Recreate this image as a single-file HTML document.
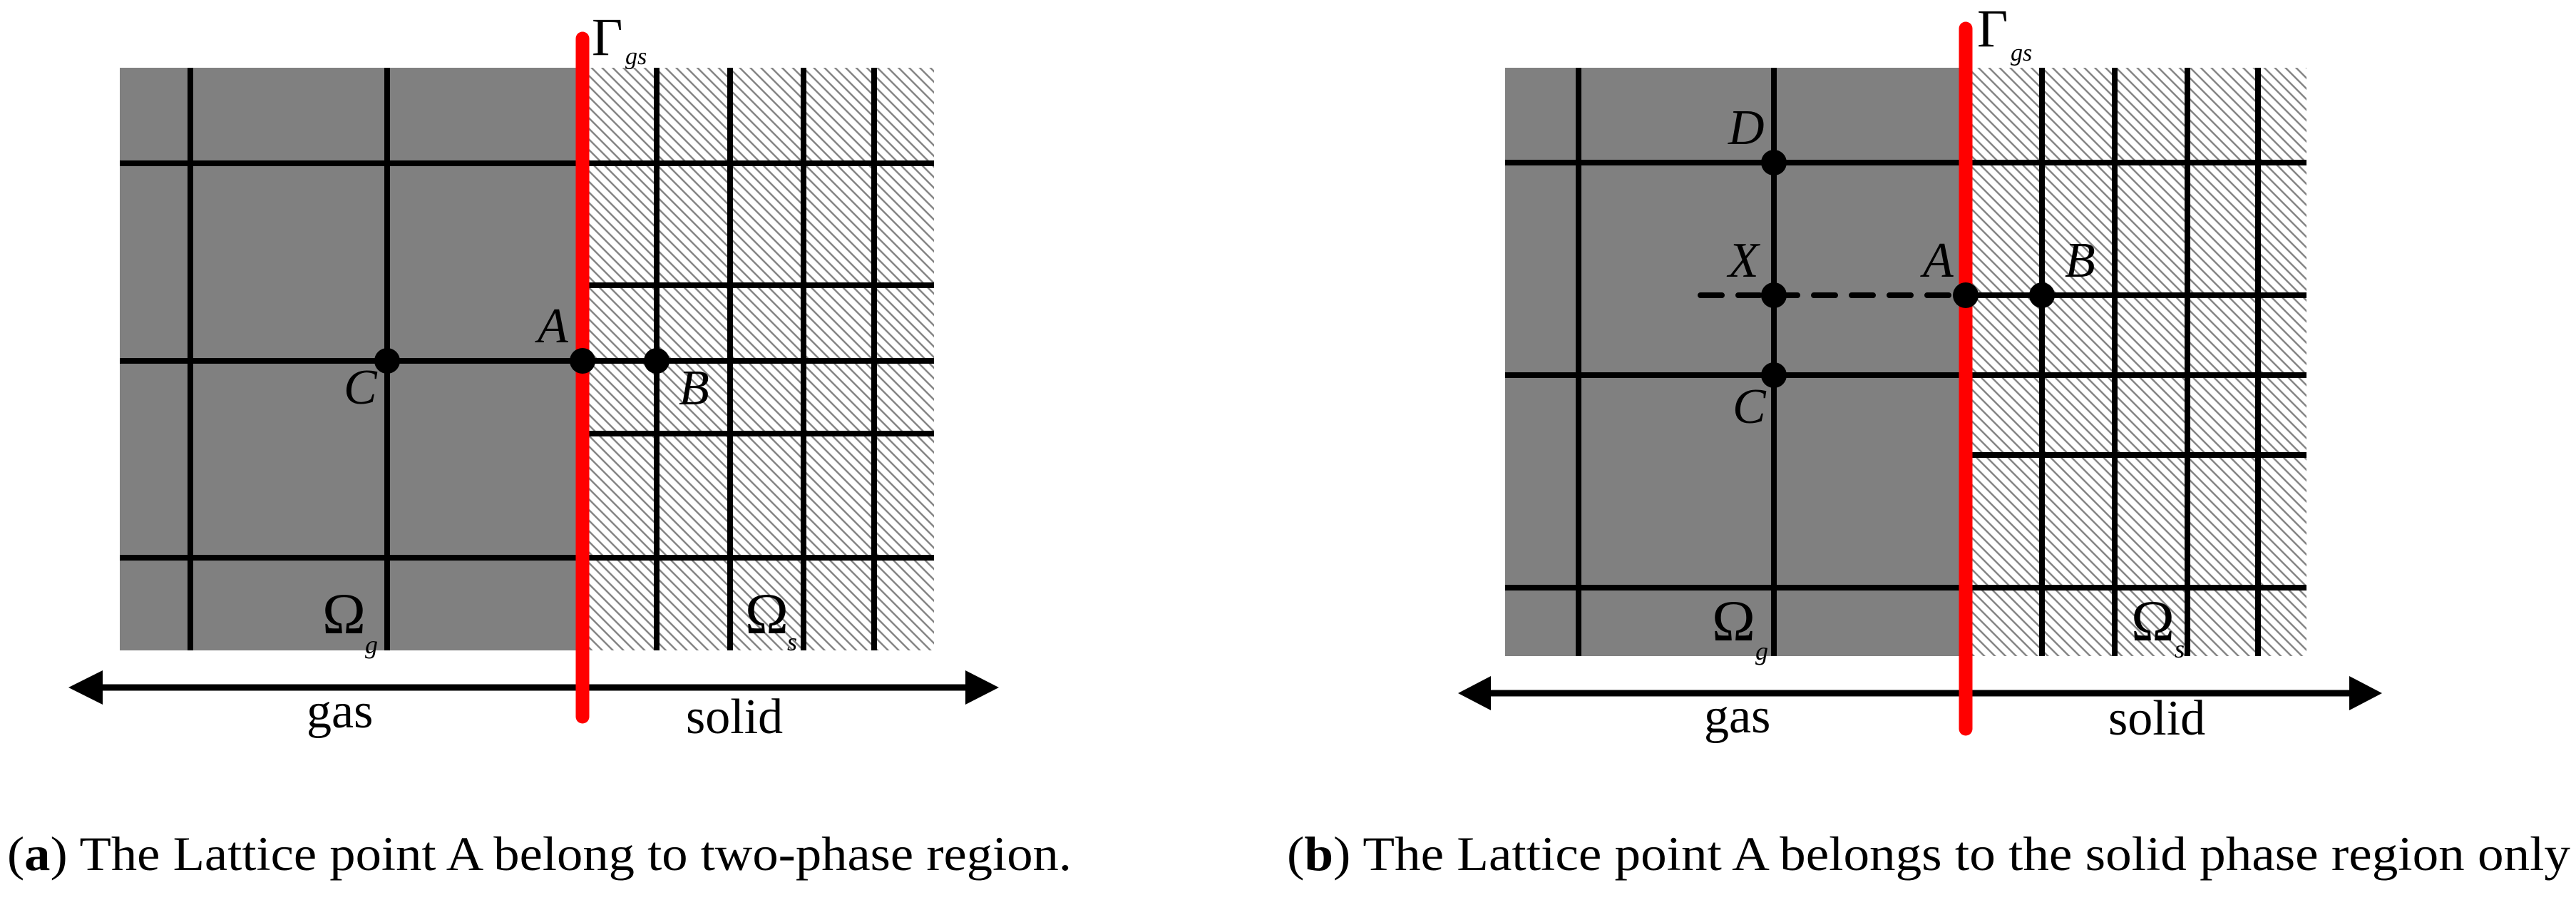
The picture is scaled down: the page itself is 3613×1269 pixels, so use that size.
<!DOCTYPE html>
<html><head><meta charset="utf-8"><style>
html,body{margin:0;padding:0;background:#fff}
svg{display:block}
svg text{font-family:"Liberation Serif","DejaVu Serif",serif}
</style></head><body>
<svg width="3613" height="1269" viewBox="0 0 3613 1269" xmlns="http://www.w3.org/2000/svg">
<defs>
<pattern id="h" width="10.5" height="10.5" patternUnits="userSpaceOnUse" patternTransform="rotate(-45)">
<rect width="10.5" height="10.5" fill="#fff"/>
<line x1="5" y1="0" x2="5" y2="10.5" stroke="#808080" stroke-width="2.4"/>
</pattern>
</defs>

<!-- Panel A -->
<rect x="168" y="95" width="649" height="817" fill="#808080"/>
<rect x="817" y="95" width="493" height="817" fill="url(#h)"/>
<g stroke="#000" stroke-width="8">
<line x1="267" y1="95" x2="267" y2="912"/>
<line x1="543" y1="95" x2="543" y2="912"/>
<line x1="921" y1="95" x2="921" y2="912"/>
<line x1="1024" y1="95" x2="1024" y2="912"/>
<line x1="1127" y1="95" x2="1127" y2="912"/>
<line x1="1226" y1="95" x2="1226" y2="912"/>
<line x1="168" y1="229" x2="1310" y2="229"/>
<line x1="168" y1="506" x2="1310" y2="506"/>
<line x1="168" y1="782" x2="1310" y2="782"/>
<line x1="817" y1="400" x2="1310" y2="400"/>
<line x1="817" y1="608" x2="1310" y2="608"/>
</g>
<line x1="144" y1="964" x2="1354" y2="964" stroke="#000" stroke-width="9"/>
<polygon points="96,964 144,940 144,988" fill="#000"/>
<polygon points="1401,964 1354,940 1354,988" fill="#000"/>
<line x1="817" y1="54" x2="817" y2="1005" stroke="#f00" stroke-width="19" stroke-linecap="round"/>
<circle cx="543" cy="506" r="18"/>
<circle cx="817" cy="506" r="18"/>
<circle cx="921" cy="506" r="18"/>
<text x="830" y="77" font-size="75">Γ</text>
<text x="877" y="90" font-size="34" font-style="italic">gs</text>
<text x="754" y="480" font-size="70" font-style="italic">A</text>
<text x="482" y="566" font-size="70" font-style="italic">C</text>
<text x="952" y="567" font-size="70" font-style="italic">B</text>
<text x="452" y="888" font-size="82">Ω</text>
<text x="512" y="916" font-size="36" font-style="italic">g</text>
<text x="1045" y="888" font-size="82">Ω</text>
<text x="1104" y="912" font-size="36" font-style="italic">s</text>
<text x="430" y="1020" font-size="70">gas</text>
<text x="962" y="1028" font-size="70">solid</text>
<text x="10" y="1220" font-size="68" textLength="1493" lengthAdjust="spacingAndGlyphs">(<tspan font-weight="bold">a</tspan>) The Lattice point A belong to two-phase region.</text>

<!-- Panel B -->
<rect x="2111" y="95" width="646" height="825" fill="#808080"/>
<rect x="2757" y="95" width="478" height="825" fill="url(#h)"/>
<g stroke="#000" stroke-width="8">
<line x1="2214" y1="95" x2="2214" y2="920"/>
<line x1="2488" y1="95" x2="2488" y2="920"/>
<line x1="2864" y1="95" x2="2864" y2="920"/>
<line x1="2966" y1="95" x2="2966" y2="920"/>
<line x1="3068" y1="95" x2="3068" y2="920"/>
<line x1="3167" y1="95" x2="3167" y2="920"/>
<line x1="2111" y1="228" x2="3235" y2="228"/>
<line x1="2111" y1="526" x2="3235" y2="526"/>
<line x1="2111" y1="824" x2="3235" y2="824"/>
<line x1="2757" y1="414" x2="3235" y2="414"/>
<line x1="2757" y1="638" x2="3235" y2="638"/>
<line x1="2385" y1="414" x2="2757" y2="414" stroke-dasharray="30 23" stroke-linecap="round"/>
</g>
<line x1="2091" y1="972" x2="3295" y2="972" stroke="#000" stroke-width="9"/>
<polygon points="2045,972 2091,948 2091,996" fill="#000"/>
<polygon points="3341,972 3295,948 3295,996" fill="#000"/>
<line x1="2757" y1="40" x2="2757" y2="1022" stroke="#f00" stroke-width="19" stroke-linecap="round"/>
<circle cx="2488" cy="228" r="18"/>
<circle cx="2488" cy="414" r="18"/>
<circle cx="2488" cy="526" r="18"/>
<circle cx="2757" cy="414" r="18"/>
<circle cx="2864" cy="414" r="18"/>
<text x="2773" y="65" font-size="75">Γ</text>
<text x="2820" y="85" font-size="34" font-style="italic">gs</text>
<text x="2424" y="202" font-size="70" font-style="italic">D</text>
<text x="2424" y="388" font-size="70" font-style="italic">X</text>
<text x="2697" y="388" font-size="70" font-style="italic">A</text>
<text x="2896" y="388" font-size="70" font-style="italic">B</text>
<text x="2430" y="593" font-size="70" font-style="italic">C</text>
<text x="2401" y="898" font-size="82">Ω</text>
<text x="2462" y="925" font-size="36" font-style="italic">g</text>
<text x="2989" y="898" font-size="82">Ω</text>
<text x="3050" y="922" font-size="36" font-style="italic">s</text>
<text x="2390" y="1027" font-size="70">gas</text>
<text x="2957" y="1030" font-size="70">solid</text>
<text x="1805" y="1220" font-size="68" textLength="1800" lengthAdjust="spacingAndGlyphs">(<tspan font-weight="bold">b</tspan>) The Lattice point A belongs to the solid phase region only</text>
</svg>
</body></html>
